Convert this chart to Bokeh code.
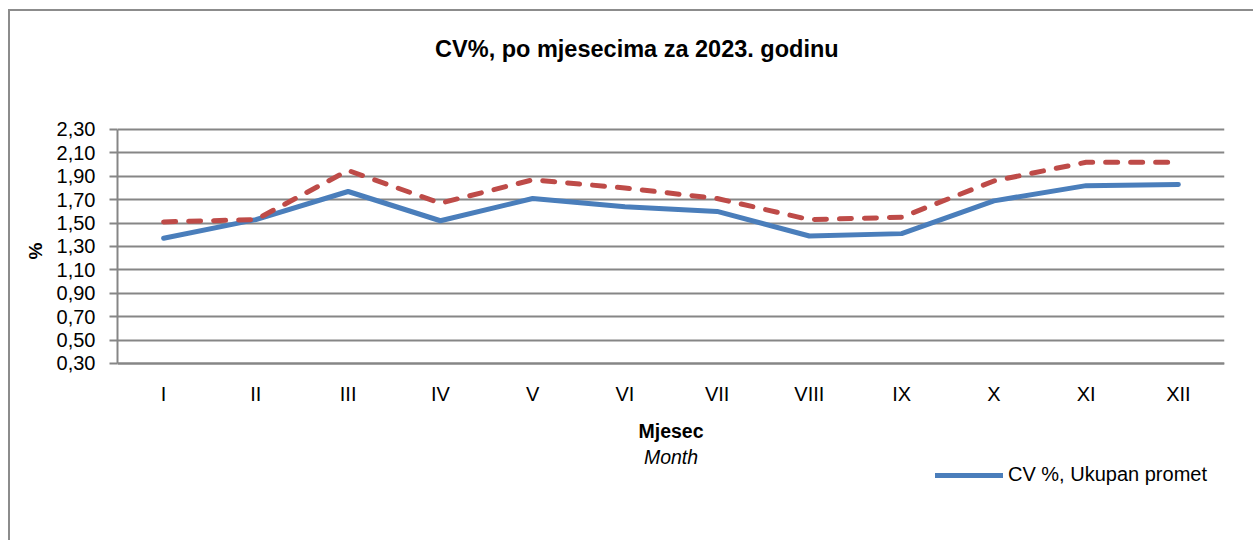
from bokeh.plotting import figure
from bokeh.models import (Range1d, FixedTicker, CustomJSTickFormatter, Title, Label,
                          Legend, LegendItem)
from bokeh.embed import file_html
from bokeh.resources import INLINE

months = ["I", "II", "III", "IV", "V", "VI", "VII", "VIII", "IX", "X", "XI", "XII"]
cv_total = [1.37, 1.53, 1.77, 1.52, 1.71, 1.64, 1.60, 1.39, 1.41, 1.69, 1.82, 1.83]
cv_second = [1.51, 1.53, 1.95, 1.67, 1.87, 1.80, 1.71, 1.53, 1.55, 1.86, 2.02, 2.02]
y_ticks = [0.30, 0.50, 0.70, 0.90, 1.10, 1.30, 1.50, 1.70, 1.90, 2.10, 2.30]

title_text = "CV%, po mjesecima za 2023. godinu"
legend_label = "CV %, Ukupan promet"
x_title = "Mjesec"
x_subtitle = "Month"
y_title = "%"

FONT = "Liberation Sans"
GRID = "#868686"

xs = list(range(1, len(months) + 1))

# frame spans the full height; the value axis covers 0.30..2.30 (117 px per unit)
p = figure(frame_width=1107, frame_height=479,
           x_range=Range1d(0.5, 12.5), y_range=Range1d(-0.7855, 3.3085),
           output_backend="svg", toolbar_location=None,
           min_border_left=107, min_border_right=29,
           min_border_top=0, min_border_bottom=0)
p.styles = {"margin-left": "8px", "margin-top": "9px", "padding-bottom": "50px",
            "border-left": "2px solid #8c8c8c", "border-top": "2px solid #8c8c8c"}
p.outline_line_color = None
p.background_fill_color = "white"
p.border_fill_color = "white"

blue = p.line(xs, cv_total, line_color="#4A7EBB", line_width=5,
              line_cap="round", line_join="round")
red = p.line(xs, cv_second, line_color="#BE4B48", line_width=5,
             line_dash="12 13", line_cap="round", line_join="round")

# axes
p.yaxis.ticker = FixedTicker(ticks=y_ticks)
p.yaxis.bounds = (y_ticks[0], y_ticks[-1])
p.yaxis.formatter = CustomJSTickFormatter(code="return tick.toFixed(2).replace('.', ',');")
p.yaxis.major_tick_out = 8
p.yaxis.major_tick_in = 0
p.yaxis.minor_tick_line_color = None
p.yaxis.axis_line_color = GRID
p.yaxis.axis_line_width = 2
p.yaxis.major_tick_line_color = GRID
p.yaxis.major_tick_line_width = 2
p.yaxis.major_label_standoff = 14
p.yaxis.major_label_text_font = FONT
p.yaxis.major_label_text_font_size = "20px"
p.yaxis.major_label_text_color = "black"

p.xaxis.ticker = FixedTicker(ticks=xs)
p.xaxis.fixed_location = y_ticks[0]
p.xaxis.major_label_overrides = {i: m for i, m in zip(xs, months)}
p.xaxis.major_tick_out = 0
p.xaxis.major_tick_in = 0
p.xaxis.minor_tick_line_color = None
p.xaxis.axis_line_color = GRID
p.xaxis.axis_line_width = 2
p.xaxis.major_label_standoff = 20
p.xaxis.major_label_text_font = FONT
p.xaxis.major_label_text_font_size = "20px"
p.xaxis.major_label_text_color = "black"

p.xgrid.grid_line_color = None
p.ygrid.grid_line_color = GRID
p.ygrid.grid_line_width = 2

# texts
p.add_layout(Label(x=6.13, y=2.992, text=title_text, text_align="center",
                   text_baseline="middle", text_font=FONT, text_font_style="bold",
                   text_font_size="23.5px", text_color="black"))
p.add_layout(Label(x=6.5, y=-0.281, text=x_title, text_align="center",
                   text_baseline="middle", text_font=FONT, text_font_style="bold",
                   text_font_size="19.5px", text_color="black"))
p.add_layout(Label(x=6.5, y=-0.495, text=x_subtitle, text_align="center",
                   text_baseline="middle", text_font=FONT, text_font_style="italic",
                   text_font_size="19.5px", text_color="black"))
p.add_layout(Title(text=y_title, align="center", standoff=16,
                   text_font=FONT, text_font_style="bold", text_font_size="19px",
                   text_color="black"), "left")

legend = Legend(items=[LegendItem(label=legend_label, renderers=[blue])],
                location=(818, 4), glyph_width=68, glyph_height=20,
                label_height=20, label_standoff=5, padding=0, margin=0,
                spacing=0, border_line_color=None, background_fill_alpha=0,
                label_text_font=FONT, label_text_font_size="20px",
                label_text_color="black")
p.add_layout(legend)

open("out.html", "w").write(file_html(p, INLINE))
